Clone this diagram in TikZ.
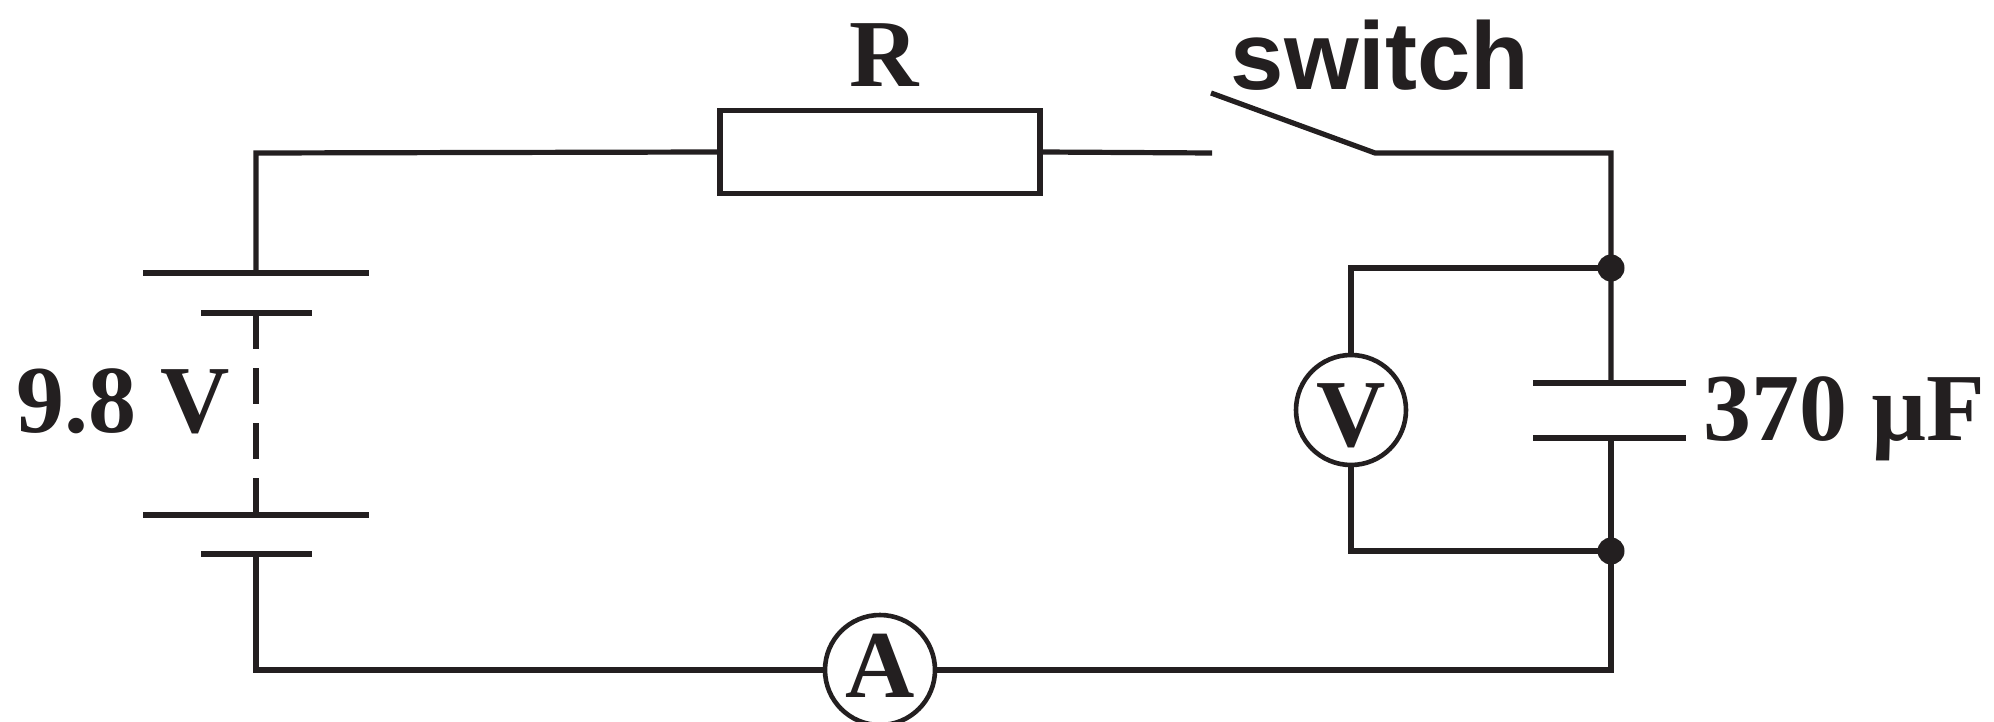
\documentclass[tikz,border=0pt]{standalone}
\usepackage{fontspec}
\setmainfont{Liberation Serif}
\newfontfamily\swfont{Liberation Sans}
\definecolor{ink}{RGB}{35,31,32}
\begin{document}
\begin{tikzpicture}[x=1pt,y=-1pt,line width=5.2pt,color=ink,
  lab/.style={inner sep=0pt,text=ink,font=\fontsize{96pt}{100pt}\selectfont\bfseries},
  swlab/.style={inner sep=0pt,text=ink,font=\fontsize{96pt}{100pt}\selectfont\swfont\bfseries},
  meter/.style={circle,draw=ink,line width=4.6pt,minimum size=110pt,inner sep=0pt,fill=white},
  resbox/.style={rectangle,draw=ink,line width=5.2pt,minimum width=320pt,minimum height=83pt,inner sep=0pt},
  jdot/.style={circle,fill=ink,minimum size=27pt,inner sep=0pt}]
\useasboundingbox (0,0) rectangle (1994,722);
% coordinates
\coordinate (tl) at (256,153);
\coordinate (bl) at (256,670);
\coordinate (br) at (1611,670);
\coordinate (tr) at (1611,153);
\coordinate (b1L) at (143,273); \coordinate (b1) at (256,273); \coordinate (b1R) at (369,273);
\coordinate (b2L) at (201,313); \coordinate (b2) at (256,313); \coordinate (b2R) at (312,313);
\coordinate (b3L) at (143,515); \coordinate (b3) at (256,515); \coordinate (b3R) at (369,515);
\coordinate (b4L) at (201,554); \coordinate (b4) at (256,554); \coordinate (b4R) at (312,554);
\coordinate (swL) at (1212,153);
\coordinate (swA) at (1211,93);
\coordinate (swB) at (1375,153);
\coordinate (c1L) at (1533,383); \coordinate (c1) at (1611,383); \coordinate (c1R) at (1686,383);
\coordinate (c2L) at (1533,438); \coordinate (c2) at (1611,438); \coordinate (c2R) at (1686,438);
\coordinate (vt) at (1351,268);
\coordinate (vb) at (1351,551);
% components
\node[resbox] (R) at (880,152) {};
\node[meter] (V) at (1351,410) {};
\node[meter] (A) at (880,670) {};
% wires
\draw (R.west) -- (tl) -- (b1);
\draw (R.east) -- (swL);
\draw (swA) -- (swB) -- (tr) -- (c1);
\draw (c2) -- (br) -- (A.east);
\draw (A.west) -- (bl) -- (b4);
\draw (1611,268) -- (vt) -- (V.north);
\draw (V.south) -- (vb) -- (1611,551);
% battery
\draw (b1L) -- (b1R);
\draw (b2L) -- (b2R);
\draw (b3L) -- (b3R);
\draw (b4L) -- (b4R);
\draw[dash pattern=on 36pt off 19pt] (b2) -- (b3);
% capacitor
\draw (c1L) -- (c1R);
\draw (c2L) -- (c2R);
% junctions
\node[jdot] (j1) at (1611,268) {};
\node[jdot] (j2) at (1611,551) {};
% labels
\node[lab,anchor=base] (lR) at (884,87) {R};
\node[swlab,anchor=base] (lsw) at (1380,90) {switch};
\node[lab,anchor=base] (lbat) at (123,432) {9.8 V};
\node[lab,anchor=base] (lcap) at (1844,440) {370 µF};
\node[lab,anchor=base] (lV) at (1351,446) {V};
\node[lab,anchor=base] (lA) at (880,697) {A};
\end{tikzpicture}
\end{document}
